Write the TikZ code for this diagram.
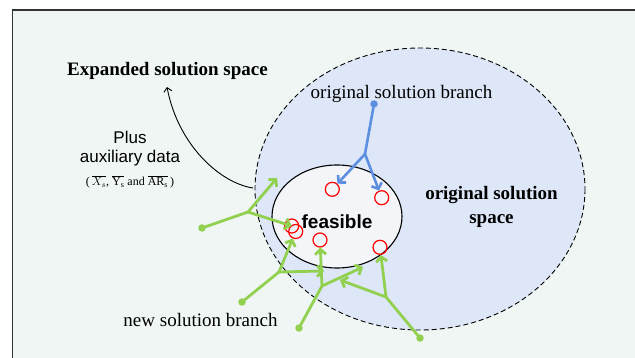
\documentclass[tikz,border=0pt]{standalone}
\usepackage{fontspec}
\setmainfont{Liberation Serif}
\setsansfont{Liberation Sans}
\usetikzlibrary{arrows.meta}
\definecolor{bgpale}{RGB}{239,246,244}
\definecolor{spaceblue}{RGB}{221,231,247}
\definecolor{feasfill}{RGB}{243,245,249}
\definecolor{newgreen}{RGB}{146,208,80}
\definecolor{oldblue}{RGB}{92,143,224}
\tikzset{
  hit/.style={circle,draw=red,line width=1.2pt,minimum size=14pt,inner sep=0pt},
  newdot/.style={circle,fill=newgreen,minimum size=7.5pt,inner sep=0pt},
  olddot/.style={circle,fill=oldblue,minimum size=7.5pt,inner sep=0pt},
  newbranch/.style={draw=newgreen,line width=2.8pt,line cap=round},
  oldbranch/.style={draw=oldblue,line width=2.6pt,line cap=round},
  tip/.style={-{Straight Barb[length=5pt,width=11pt]}},
  serifbig/.style={font=\fontsize{19}{24}\selectfont,inner sep=0pt},
  sansmid/.style={font=\sffamily\fontsize{17}{21}\selectfont,inner sep=0pt}
}
\begin{document}
\begin{tikzpicture}[x=1pt,y=-1pt]
\useasboundingbox (0,0) rectangle (635,358);
\fill[white] (0,0) rectangle (635,358);
\draw[fill=bgpale,draw=black!80,line width=1.6pt] (12.5,10) rectangle (660,390);
\draw[fill=spaceblue,dash pattern=on 5pt off 3pt,line width=0.9pt] (420,189) ellipse [x radius=165,y radius=141];
\draw[fill=feasfill,line width=1.1pt] (337,216.5) ellipse [x radius=65,y radius=51.5];

\node[serifbig,font=\bfseries\fontsize{19}{24}\selectfont] (exp) at (167.5,71) {Expanded solution space};
\node[sansmid] (plus) at (130,137) {Plus};
\node[sansmid] (aux) at (130,158) {auxiliary data};
\node[inner sep=0pt,font=\fontsize{12}{14}\selectfont] (form) at (130,182)
  {(\,$\overline{X_s}$, $\overline{\mathrm{Y}_{\mathrm{s}}}$ and $\overline{\mathrm{AR}_{\mathrm{s}}}$\,)};
\node[serifbig] (origbr) at (401.5,94) {original solution branch};
\node[serifbig,font=\bfseries\fontsize{19}{24}\selectfont,align=center] (origsp) at (491.5,207) {original solution\\space};
\node[inner sep=0pt,font=\sffamily\bfseries\fontsize{19}{24}\selectfont] (feas) at (337,222) {feasible};
\node[serifbig] (newbr) at (200.5,320) {new solution branch};

\coordinate (left) at (253,188);
\draw[line width=0.9pt,-{Straight Barb[length=4pt,width=8pt]}] (left) .. controls (220,183) and (178,145) .. (167,87);

\node[hit] (t1) at (291.7,226) {};
\node[hit] (t2) at (295.7,231.5) {};
\node[hit] (t3) at (320,240) {};
\node[hit] (t4) at (380,247.3) {};
\node[hit] (t5) at (332.3,189.3) {};
\node[hit] (t6) at (381.7,197.7) {};

\node[olddot] (s0) at (374,104) {};
\coordinate (j0) at (365,154);
\draw[oldbranch] (s0) -- (j0);
\draw[oldbranch,tip] (j0) -- (t5);
\draw[oldbranch,tip] (j0) -- (t6);

\node[newdot] (s1) at (202,228) {};
\coordinate (j1) at (248,212);
\coordinate (e1) at (277,178);
\draw[newbranch] (s1) -- (j1);
\draw[newbranch,tip] (j1) -- (e1);
\draw[newbranch,tip] (j1) -- (t1.center);

\node[newdot] (s2) at (242,302) {};
\coordinate (j2) at (279,272);
\coordinate (e2) at (324,271);
\draw[newbranch] (s2) -- (j2);
\draw[newbranch,tip] (j2) -- (t2);
\draw[newbranch,tip] (j2) -- (e2);

\node[newdot] (s3) at (299,328) {};
\coordinate (j3) at (322,286);
\coordinate (e3) at (363,267);
\draw[newbranch] (s3) -- (j3);
\draw[newbranch,tip] (j3) -- (t3);
\draw[newbranch,tip] (j3) -- (e3);

\node[newdot] (s4) at (420,338) {};
\coordinate (j4) at (386,297);
\coordinate (e4) at (340,280);
\draw[newbranch] (s4) -- (j4);
\draw[newbranch,tip] (j4) -- (t4);
\draw[newbranch,tip] (j4) -- (e4);
\end{tikzpicture}
\end{document}
